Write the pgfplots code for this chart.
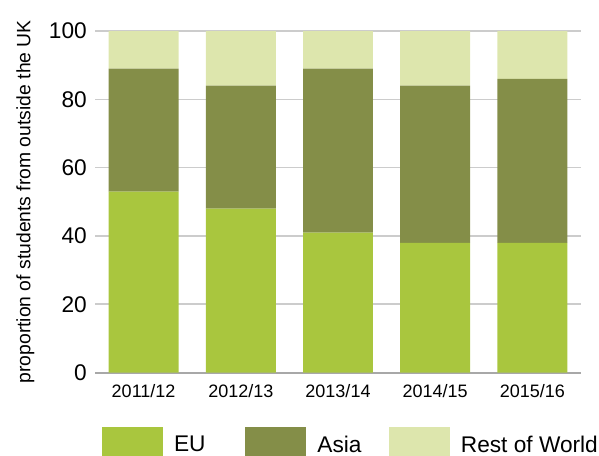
\documentclass[border=0pt]{standalone}
\usepackage{pgfplots}
\pgfplotsset{compat=1.18}
\usepackage{fontspec}
\setmainfont{Liberation Sans}
\definecolor{eu}{HTML}{A9C63E}
\definecolor{asia}{HTML}{848E48}
\definecolor{rowc}{HTML}{DDE6AD}
\definecolor{gridc}{HTML}{CCCCCC}
\definecolor{axisc}{HTML}{A8A8A8}
\begin{document}
\begin{tikzpicture}
\path[use as bounding box] (0,0) rectangle (449.25pt,342pt);
\begin{axis}[
  at={(71.25pt,62.6pt)}, anchor=south west,
  scale only axis, width=364.5pt, height=256.1pt,
  ybar stacked, bar width=0.72,
  xmin=-0.5, xmax=4.5, ymin=0, ymax=100,
  xtick={0,1,2,3,4},
  xticklabels={2011/12,2012/13,2013/14,2014/15,2015/16},
  ytick={0,20,40,60,80,100},
  axis x line*=bottom, axis y line*=left,
  separate axis lines,
  x axis line style={draw=axisc, line width=1.5pt, -},
  y axis line style={draw=none},
  ymajorgrids, grid style={draw=gridc, line width=1.2pt},
  major tick length=0pt,
  /pgf/number format/assume math mode=true,
  yticklabel style={font=\fontsize{17}{17}\selectfont, anchor=east, inner sep=0pt},
  yticklabel shift=6pt,
  xticklabel style={font=\fontsize{13.5}{13.5}\selectfont, anchor=north, inner sep=0pt},
  xticklabel shift=8.6pt,
  ylabel={proportion of students from outside the UK},
  ylabel style={at={(axis description cs:-0.143,0.5)}, anchor=center, font=\fontsize{14.5}{14.5}\selectfont},
  legend style={at={(0,0)}, anchor=west, xshift=5.25pt, yshift=-54.8pt, draw=none, fill=none,
    inner sep=0pt, outer sep=0pt, legend columns=3, font=\fontsize{17}{17}\selectfont,
    nodes={inner sep=0pt},
    /tikz/every odd column/.append style={column sep=8.25pt},
    /tikz/every even column/.append style={column sep=0pt}},
  mylegend/.style={legend image code/.code={\fill[##1] (0pt,-14.5pt) rectangle (45.75pt,13.3pt);}},
]
\addplot[fill=eu, draw=none, mylegend] coordinates {(0,53) (1,48) (2,41) (3,38) (4,38)};
\addplot[fill=asia, draw=none, mylegend] coordinates {(0,36) (1,36) (2,48) (3,46) (4,48)};
\addplot[fill=rowc, draw=none, mylegend] coordinates {(0,11) (1,16) (2,11) (3,16) (4,14)};
\legend{\makebox[53.6pt][l]{EU}, \makebox[53.6pt][l]{Asia}, Rest of World}
\end{axis}
\end{tikzpicture}
\end{document}
